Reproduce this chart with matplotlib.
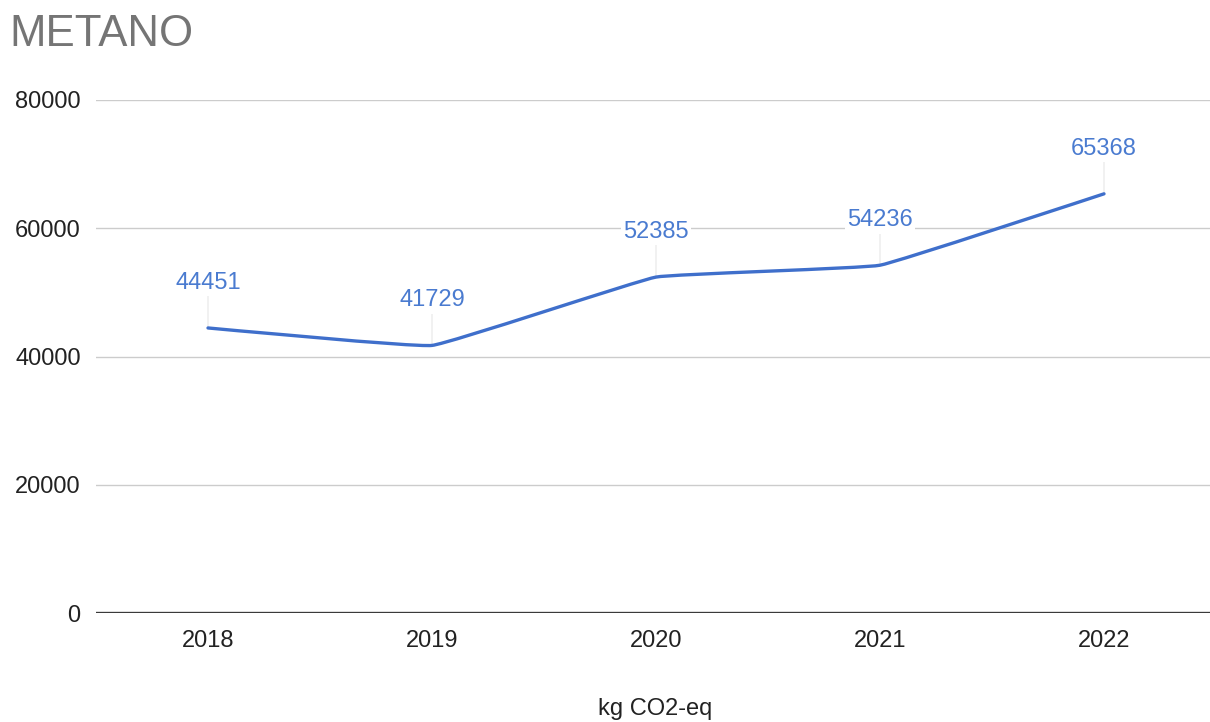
import matplotlib
matplotlib.use("Agg")
import matplotlib.pyplot as plt
from matplotlib.path import Path
from matplotlib.patches import PathPatch

years = ["2018", "2019", "2020", "2021", "2022"]
methane = [44451, 41729, 52385, 54236, 65368]
y_ticks = [0, 20000, 40000, 60000, 80000]

plt.rcParams["font.family"] = ["Liberation Sans", "DejaVu Sans"]

W, H = 1210, 722
fig = plt.figure(figsize=(W / 100, H / 100), dpi=100)
left, right = 96 / W, 1.0
bottom, top = (H - 613) / H, (H - 100) / H
ax = fig.add_axes([left, bottom, right - left, top - bottom])

x = list(range(len(years)))
line_color = "#3f6fcb"


def smooth_path(xs, ys, t=0.04):
    """Cubic Bezier path through the points with gentle tangents."""
    pts = list(zip(xs, ys))
    n = len(pts)
    verts = [pts[0]]
    codes = [Path.MOVETO]
    for i in range(n - 1):
        p0 = pts[i - 1] if i > 0 else pts[i]
        p1, p2 = pts[i], pts[i + 1]
        p3 = pts[i + 2] if i + 2 < n else pts[i + 1]
        c1 = (p1[0] + (p2[0] - p0[0]) * t, p1[1] + (p2[1] - p0[1]) * t)
        c2 = (p2[0] - (p3[0] - p1[0]) * t, p2[1] - (p3[1] - p1[1]) * t)
        verts += [c1, c2, p2]
        codes += [Path.CURVE4] * 3
    return Path(verts, codes)


ax.add_patch(PathPatch(smooth_path(x, methane), facecolor="none",
                       edgecolor=line_color, lw=2.4, capstyle="round",
                       joinstyle="round", zorder=3))

# value labels on a white backing, with faint leader lines
for xi, v in zip(x, methane):
    ax.annotate("", xy=(xi, v), xytext=(0, 32), textcoords="offset pixels",
                arrowprops=dict(arrowstyle="-", color="#e6e6e6", lw=0.8,
                                shrinkA=0, shrinkB=0), zorder=2)
    ax.annotate(f"{v}", xy=(xi, v), xytext=(0, 45), textcoords="offset pixels",
                ha="center", va="center", fontsize=17, color="#4a7bd0",
                bbox=dict(boxstyle="square,pad=0.1", fc="white", ec="none"),
                zorder=4)

ax.set_xlim(-0.5, -0.5 + (W - 96) / 224)
ax.set_ylim(0, 80000)
ax.set_yticks(y_ticks)
ax.set_yticklabels([str(t) for t in y_ticks])
ax.set_xticks(x)
ax.set_xticklabels(years)

ax.grid(axis="y", color="#cccccc", lw=1.0, zorder=0)
ax.axhline(0, color="#3a3a3a", lw=2.4, zorder=2)
for s in ax.spines.values():
    s.set_visible(False)
ax.tick_params(axis="both", length=0, labelsize=17, colors="#222222")
ax.tick_params(axis="y", pad=11)
ax.tick_params(axis="x", pad=12)

fig.text(655 / W, (H - 709) / H, "kg CO2-eq", fontsize=17, color="#222222",
         ha="center", va="center")
fig.text(9 / W, (H - 35) / H, "METANO", fontsize=31.5, color="#757575",
         ha="left", va="center")

fig.savefig("out.png", dpi=100, facecolor="white")
